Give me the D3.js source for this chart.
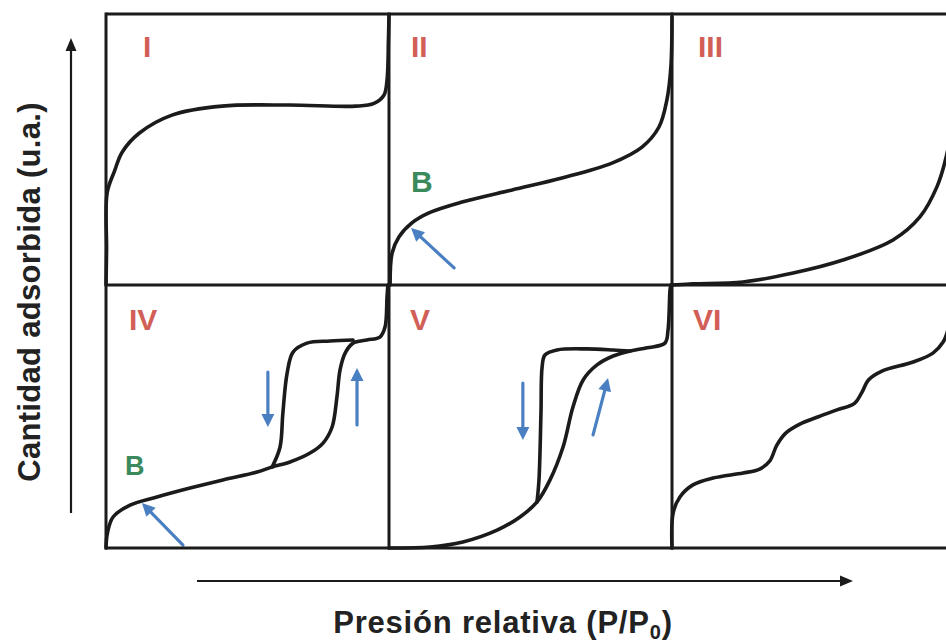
<!DOCTYPE html>
<html>
<head>
<meta charset="utf-8">
<script src="https://cdn.jsdelivr.net/npm/d3@7"></script>
<style>
  html, body { margin: 0; padding: 0; background: #fff; }
  svg { display: block; }
</style>
</head>
<body>
<script>
// ---------------- DATA (relative pressure 0..1, adsorbed amount 0..1) ----------------
const panelLabels = ["I", "II", "III", "IV", "V", "VI"];
const xAxisLabel = "Presión relativa (P/P";
const xAxisSub = "0";
const yAxisLabel = "Cantidad adsorbida (u.a.)";

const typeI = [[0,0],[0.002,0.13],[0.004,0.34],[0.03,0.42],[0.057,0.49],[0.117,0.56],[0.233,0.627],[0.41,0.66],[0.647,0.664],[0.883,0.66],[0.947,0.67],[0.982,0.70],[0.993,0.756],[0.998,0.904],[1.0,0.996]];
const typeII = [[0.004,0],[0.011,0.118],[0.035,0.177],[0.081,0.229],[0.141,0.266],[0.258,0.306],[0.435,0.351],[0.611,0.395],[0.788,0.45],[0.894,0.509],[0.954,0.583],[0.982,0.683],[0.996,0.804],[1.0,0.989]];
const typeIII = [[0,0],[0.074,0.004],[0.251,0.011],[0.428,0.044],[0.604,0.092],[0.781,0.166],[0.876,0.251],[0.936,0.362],[0.968,0.469],[0.986,0.572],[1.0,0.756]];
const typeIVads = [[0,0],[0.005,0.057],[0.025,0.118],[0.085,0.163],[0.18,0.194],[0.297,0.228],[0.413,0.259],[0.534,0.289],[0.587,0.308],[0.65,0.327],[0.721,0.361],[0.767,0.399],[0.799,0.46],[0.816,0.574],[0.827,0.677],[0.845,0.741],[0.873,0.779],[0.922,0.791],[0.968,0.802],[0.986,0.84],[0.993,0.954],[0.996,1.0]];
const typeIVdes = [[0.587,0.308],[0.615,0.384],[0.625,0.513],[0.64,0.665],[0.661,0.745],[0.71,0.779],[0.792,0.787],[0.873,0.791]];
const typeVads = [[0,0],[0.145,0.004],[0.261,0.023],[0.382,0.068],[0.463,0.118],[0.523,0.175],[0.569,0.259],[0.615,0.384],[0.65,0.536],[0.686,0.639],[0.735,0.696],[0.792,0.73],[0.852,0.749],[0.912,0.761],[0.975,0.779],[0.986,0.829],[0.993,0.981],[0.996,1.0]];
const typeVdes = [[0.523,0.175],[0.53,0.259],[0.537,0.513],[0.541,0.688],[0.551,0.734],[0.594,0.753],[0.7,0.757],[0.792,0.753],[0.852,0.749]];
const typeVI = [[0,0],[0.004,0.133],[0.028,0.194],[0.074,0.24],[0.145,0.266],[0.251,0.285],[0.31,0.3],[0.345,0.33],[0.37,0.39],[0.40,0.435],[0.45,0.47],[0.52,0.5],[0.583,0.525],[0.645,0.55],[0.67,0.59],[0.695,0.64],[0.74,0.672],[0.852,0.707],[0.922,0.741],[0.958,0.783],[0.975,0.829],[1.0,0.943]];

// "B" point markers (panel index, x, y)
const bLabels = [[1, 0.078, 0.343], [3, 0.067, 0.278]];
// blue direction arrows: panel index, from [x,y], to [x,y]
const blueArrows = [
  [1, [0.23, 0.063], [0.078, 0.21]],
  [3, [0.272, 0.011], [0.127, 0.171]],
  [3, [0.572, 0.669], [0.572, 0.46]],
  [3, [0.887, 0.468], [0.887, 0.684]],
  [4, [0.473, 0.627], [0.473, 0.411]],
  [4, [0.721, 0.43], [0.774, 0.646]]
];

const panelCurves = [
  [typeI], [typeII], [typeIII],
  [typeIVads, typeIVdes], [typeVads, typeVdes], [typeVI]
];

// ---------------- LAYOUT ----------------
const W = 946, H = 643;
const colLeft = [106, 389, 672];
const panelW = 283;
const rowTop = [14, 285];
const rowBottom = [285, 548];
const labelDx = [37, 22, 26, 23, 21, 21];

const RED = "#d25f57", GREEN = "#3a8a5c", BLUE = "#4a7fc1", INK = "#1b1b1b";

const svg = d3.select("body").append("svg").attr("width", W).attr("height", H)
  .style("font-family", "'Liberation Sans', Arial, sans-serif");
svg.append("rect").attr("width", W).attr("height", H).attr("fill", "#fff");

function arrowHead(g, x1, y1, x2, y2, len, half, color) {
  const a = Math.atan2(y2 - y1, x2 - x1);
  const bx = x2 - len * Math.cos(a), by = y2 - len * Math.sin(a);
  const px = -Math.sin(a) * half, py = Math.cos(a) * half;
  g.append("path")
    .attr("d", `M${x2},${y2}L${bx + px},${by + py}L${bx - px},${by - py}Z`)
    .attr("fill", color);
  return [bx, by];
}

const line = d3.line().curve(d3.curveCatmullRom.alpha(0.5));

panelLabels.forEach((lab, i) => {
  const c = i % 3, r = Math.floor(i / 3);
  const x = d3.scaleLinear().domain([0, 1]).range([colLeft[c], colLeft[c] + panelW]);
  const y = d3.scaleLinear().domain([0, 1]).range([rowBottom[r], rowTop[r]]);
  const g = svg.append("g");
  panelCurves[i].forEach(pts => {
    g.append("path")
      .attr("d", line.x(d => x(d[0])).y(d => y(d[1]))(pts))
      .attr("fill", "none").attr("stroke", INK).attr("stroke-width", 3.6)
      .attr("stroke-linecap", "round").attr("stroke-linejoin", "round");
  });
  g.append("text").attr("x", colLeft[c] + labelDx[i]).attr("y", rowTop[r] + (r === 0 ? 43 : 45))
    .attr("fill", RED).attr("font-size", 30).attr("font-weight", "bold").text(lab);

  bLabels.filter(b => b[0] === i).forEach(b => {
    g.append("text").attr("x", x(b[1])).attr("y", y(b[2]))
      .attr("fill", GREEN).attr("font-size", i === 1 ? 30 : 27).attr("font-weight", "bold").text("B");
  });
  blueArrows.filter(a => a[0] === i).forEach(a => {
    const x1 = x(a[1][0]), y1 = y(a[1][1]), x2 = x(a[2][0]), y2 = y(a[2][1]);
    const [bx, by] = arrowHead(g, x1, y1, x2, y2, 13, 6.5, BLUE);
    g.append("line").attr("x1", x1).attr("y1", y1).attr("x2", bx).attr("y2", by)
      .attr("stroke", BLUE).attr("stroke-width", 3.2).attr("stroke-linecap", "round");
  });
});

// panel frames
const frame = svg.append("g").attr("stroke", INK).attr("stroke-width", 3).attr("fill", "none");
[rowTop[0], rowTop[1], rowBottom[1]].forEach(yy => {
  frame.append("line").attr("x1", colLeft[0]).attr("x2", W + 5).attr("y1", yy).attr("y2", yy);
});
colLeft.forEach(xx => {
  frame.append("line").attr("x1", xx).attr("x2", xx).attr("y1", rowTop[0] - 1.5).attr("y2", rowBottom[1] + 1.5);
});

// axis arrows
const ax = svg.append("g");
{
  const [bx, by] = arrowHead(ax, 71, 513, 71, 38, 13, 5.5, INK);
  ax.append("line").attr("x1", 71).attr("y1", 513).attr("x2", 71).attr("y2", by)
    .attr("stroke", INK).attr("stroke-width", 2.2);
}
{
  const [bx, by] = arrowHead(ax, 197, 581, 853, 581, 13, 5.5, INK);
  ax.append("line").attr("x1", 197).attr("y1", 581).attr("x2", bx).attr("y2", 581)
    .attr("stroke", INK).attr("stroke-width", 2.2);
}

// axis titles
const xt = svg.append("text").attr("x", 503).attr("y", 633).attr("text-anchor", "middle")
  .attr("font-size", 31).attr("letter-spacing", 0.8).attr("font-weight", "bold").attr("fill", "#222");
xt.append("tspan").text(xAxisLabel);
xt.append("tspan").attr("font-size", 20).attr("dy", 6).text(xAxisSub);
xt.append("tspan").attr("dy", -6).text(")");

svg.append("text").attr("transform", "translate(40,292) rotate(-90)").attr("text-anchor", "middle")
  .attr("font-size", 31).attr("letter-spacing", 0.3).attr("font-weight", "bold").attr("fill", "#222").text(yAxisLabel);
</script>
</body>
</html>
